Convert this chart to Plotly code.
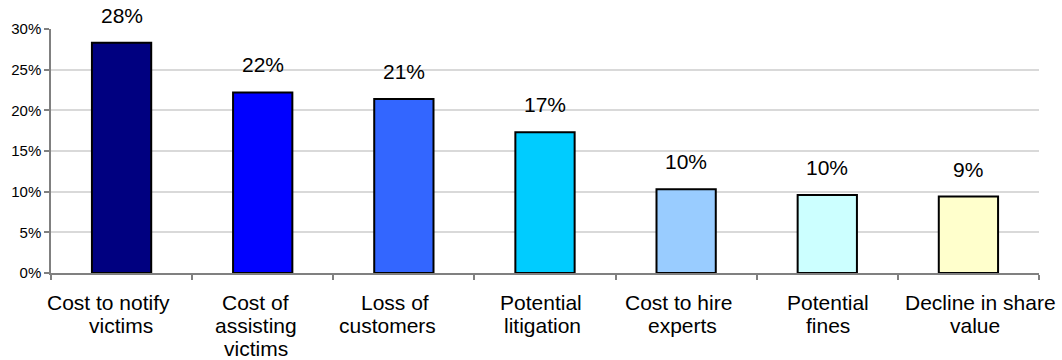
import plotly.graph_objects as go

# Share of respondents citing each breach-related cost
categories = [
    "Cost to notify<br>victims",
    "Cost of<br>assisting<br>victims",
    "Loss of<br>customers",
    "Potential<br>litigation",
    "Cost to hire<br>experts",
    "Potential<br>fines",
    "Decline in share<br>value",
]
values = [28.3, 22.2, 21.4, 17.3, 10.3, 9.6, 9.4]
bar_colors = ["#000080", "#0000FF", "#3366FF", "#00CCFF", "#99CCFF", "#CCFFFF", "#FFFFCC"]
y_ticks = [0, 5, 10, 15, 20, 25, 30]

# horizontal nudges (px) for each wrapped line of the category labels
label_nudges = [
    [-13, -1],
    [-7, -7, -7],
    [-9, -16],
    [-4, -3],
    [-8, -4],
    [1, 1],
    [12, 7],
]

FONT = "Liberation Sans, Arial, sans-serif"

fig = go.Figure(
    go.Bar(
        x=categories,
        y=values,
        width=0.42,
        marker=dict(color=bar_colors, line=dict(color="#000000", width=2)),
        hoverinfo="skip",
    )
)

annotations = []
# value labels above the bars
for cat, v in zip(categories, values):
    annotations.append(dict(
        x=cat, y=v, xref="x", yref="y", text=f"{round(v)}%",
        showarrow=False, yanchor="bottom", yshift=14,
        font=dict(family=FONT, size=21, color="#000000"),
    ))
# category labels, one line each for tight line spacing
for cat, nudges in zip(categories, label_nudges):
    for i, (line, dx) in enumerate(zip(cat.split("<br>"), nudges)):
        annotations.append(dict(
            x=cat, y=0, xref="x", yref="y", text=line,
            showarrow=False, yanchor="middle", yshift=-29 - i * 23.3, xshift=dx,
            font=dict(family=FONT, size=21, color="#000000"),
        ))

fig.update_layout(
    width=1062, height=360,
    margin=dict(l=51, r=23, t=29, b=87),
    paper_bgcolor="#FFFFFF", plot_bgcolor="#FFFFFF",
    showlegend=False,
    annotations=annotations,
    xaxis=dict(
        type="category", showticklabels=False, ticks="outside", tickson="boundaries",
        ticklen=5, tickcolor="#808080", tickwidth=1.5,
        showline=True, linecolor="#808080", linewidth=1.5, showgrid=False,
        range=[-0.5, len(categories) - 0.5],
    ),
    yaxis=dict(
        range=[0, 30], tickvals=y_ticks, ticktext=[f"{t}%" for t in y_ticks],
        ticks="outside", ticklen=5, tickcolor="#808080", tickwidth=1.5,
        showline=True, linecolor="#808080", linewidth=1.5,
        showgrid=True, gridcolor="#D9D9D9", gridwidth=1.5, zeroline=False,
        tickfont=dict(family=FONT, size=15, color="#000000"),
    ),
)

fig.write_html("out.html")
